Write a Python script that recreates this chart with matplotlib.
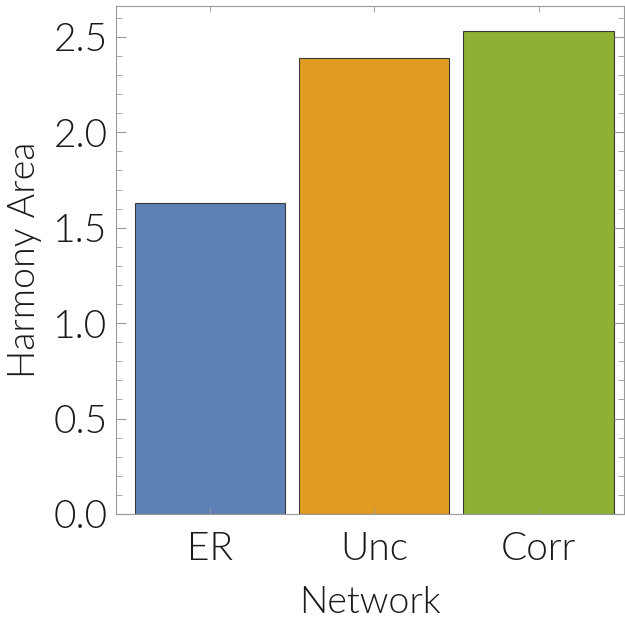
import matplotlib.pyplot as plt
import numpy as np

networks = ['ER', 'Unc', 'Corr']
harmony_area = [1.630, 2.390, 2.531]
colors = ['#5E81B5', '#E19C24', '#8FB032']

plt.rcParams['font.family'] = ['Lato', 'DejaVu Sans']
plt.rcParams['font.weight'] = 300

fig = plt.figure(figsize=(6.25, 6.25), dpi=100)
ax = fig.add_axes([0.1856, 0.1776, 0.8128, 0.8128])

x = np.arange(len(networks))
ax.bar(x, harmony_area, width=0.915, color=colors, edgecolor='#3a3a3a', linewidth=0.8)

ax.set_xlim(-0.573, 2.52)
ax.set_ylim(0, 2.662)
ax.set_xticks(x)
ax.set_xticklabels(networks)
ax.set_yticks(np.arange(0, 2.51, 0.5))
ax.set_yticklabels(['%.1f' % v for v in np.arange(0, 2.51, 0.5)])
ax.set_yticks(np.arange(0, 2.66, 0.1), minor=True)

for s in ax.spines.values():
    s.set_color('#999999')
    s.set_linewidth(0.8)

ax.tick_params(axis='y', which='major', direction='in', length=7, width=0.8,
               color='#999999', labelcolor='#1a1a1a', labelsize=28,
               left=True, right=True, pad=6)
ax.tick_params(axis='y', which='minor', direction='in', length=4, width=0.6,
               color='#999999', left=True, right=True)
ax.tick_params(axis='x', which='major', direction='in', length=4, width=0.6,
               color='#999999', labelcolor='#1a1a1a', labelsize=28,
               top=True, bottom=True, pad=12)

ax.set_xlabel('Network', fontsize=27, weight=300, color='#1a1a1a', labelpad=14)
ax.set_ylabel('Harmony Area', fontsize=27, weight=300, color='#1a1a1a', labelpad=8)

plt.savefig('out.png', dpi=100)
